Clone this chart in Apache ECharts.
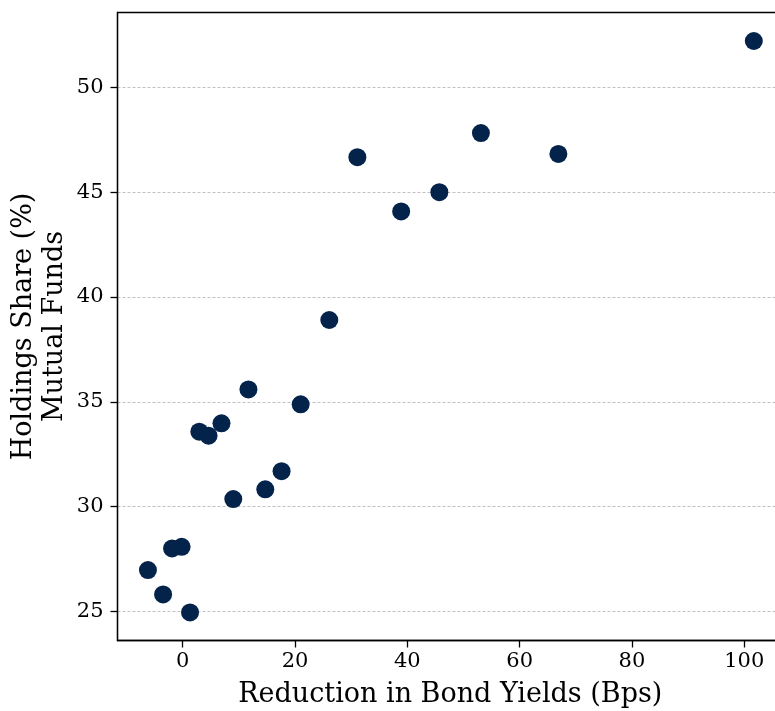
<!DOCTYPE html>
<html>
<head>
<meta charset="utf-8">
<script src="https://cdn.jsdelivr.net/npm/echarts@6/dist/echarts.min.js"></script>
<style>
  html, body { margin: 0; padding: 0; background: #fff; }
  #chart { width: 775px; height: 711px; }
</style>
</head>
<body>
<div id="chart"></div>
<script>
// values
const reductionBps = [101.7, 66.9, 53.1, 45.7, 38.9, 31.1, 26.1, 21.0, 11.7, 6.9, 2.95, 4.6, 17.6, 14.7, 9.0, -0.2, -1.9, -6.2, -3.5, 1.3];
const holdingsShare = [52.21, 46.82, 47.82, 45.0, 44.08, 46.67, 38.9, 34.88, 35.59, 33.97, 33.57, 33.38, 31.69, 30.82, 30.36, 28.08, 28.0, 26.97, 25.81, 24.95];
const xTicks = [0, 20, 40, 60, 80, 100];
const yTicks = [25, 30, 35, 40, 45, 50];

const points = reductionBps.map(function (x, i) { return [x, holdingsShare[i]]; });

const font = 'DejaVu Serif';
const chart = echarts.init(document.getElementById('chart'), null, { renderer: 'canvas' });

chart.setOption({
  animation: false,
  backgroundColor: '#ffffff',
  grid: {
    left: 117.5, top: 12.5, bottom: 70.5, right: -8,
    outerBoundsMode: 'none',
    containLabel: false,
    show: true, borderColor: '#000', borderWidth: 1.3, backgroundColor: 'transparent'
  },
  xAxis: {
    type: 'value',
    min: -11.62, max: 106.9,
    name: 'Reduction in Bond Yields (Bps)',
    nameLocation: 'middle',
    nameGap: 41,
    nameMoveOverlap: false,
    nameTextStyle: { fontFamily: font, fontSize: 27, color: '#000' },
    axisLine: { show: true, onZero: false, lineStyle: { color: '#000', width: 1.3 } },
    axisTick: { show: true, inside: false, length: 7, customValues: xTicks, lineStyle: { color: '#000', width: 1.3 } },
    axisLabel: { customValues: xTicks, fontFamily: font, fontSize: 21, color: '#000', margin: 11 },
    splitLine: { show: false }
  },
  yAxis: {
    type: 'value',
    min: 23.61, max: 53.57,
    name: 'Holdings Share (%)\nMutual Funds',
    nameLocation: 'middle',
    nameGap: 47,
    nameMoveOverlap: false,
    nameRotate: 90,
    nameTextStyle: { fontFamily: font, fontSize: 27, color: '#000', lineHeight: 31, align: 'center' },
    axisLine: { show: true, onZero: false, lineStyle: { color: '#000', width: 1.3 } },
    axisTick: { show: true, inside: false, length: 7, customValues: yTicks, lineStyle: { color: '#000', width: 1.3 } },
    axisLabel: { customValues: yTicks, fontFamily: font, fontSize: 21, color: '#000', margin: 14 },
    splitLine: { show: true, lineStyle: { color: '#b0b0b0', width: 0.8, type: [3, 2] } }
  },
  series: [{
    type: 'scatter',
    data: points,
    symbol: 'circle',
    symbolSize: 18,
    itemStyle: { color: '#03234a', opacity: 1 }
  }]
});
</script>
</body>
</html>
